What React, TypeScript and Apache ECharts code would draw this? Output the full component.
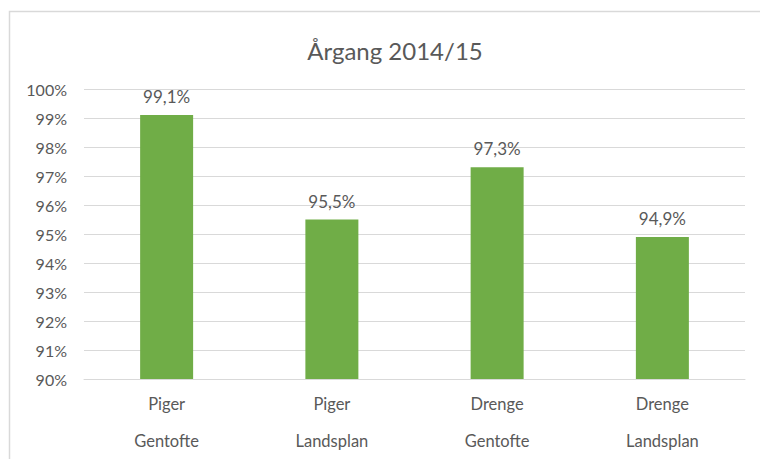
import React, { useEffect, useRef } from "react";
import * as echarts from "echarts";

const titleText = "Årgang 2014/15";
const categories = ["Piger\nGentofte", "Piger\nLandsplan", "Drenge\nGentofte", "Drenge\nLandsplan"];
const values = [99.1, 95.5, 97.3, 94.9];
const yMin = 90;
const yMax = 100;
const yStep = 1;

export default function App() {
  const ref = useRef<HTMLDivElement>(null);
  useEffect(() => {
    if (!ref.current) return;
    const chart = echarts.init(ref.current, null, { renderer: "svg", width: 760, height: 459 });
    const font = "Lato, 'Open Sans', sans-serif";
    chart.setOption({
      animation: false,
      backgroundColor: "#ffffff",
      textStyle: { fontFamily: font },
      title: {
        text: titleText,
        left: 390,
        top: 33,
        textAlign: "center",
        textStyle: { color: "#595959", fontSize: 24, fontWeight: "normal", fontFamily: font },
      },
      graphic: [
        {
          type: "rect",
          shape: { x: 9.5, y: 11.5, width: 770, height: 470 },
          style: { fill: "none", stroke: "#d9d9d9", lineWidth: 1.5 },
          silent: true,
          z: -1,
        },
      ],
      grid: { left: 84, top: 89, width: 661, height: 294, containLabel: false },
      xAxis: {
        type: "category",
        data: categories,
        axisLine: { show: true, lineStyle: { color: "#d9d9d9" } },
        axisTick: { show: false },
        axisLabel: {
          color: "#595959",
          fontSize: 16.5,
          lineHeight: 37,
          margin: 6,
          fontFamily: font,
        },
      },
      yAxis: {
        type: "value",
        min: yMin,
        max: yMax,
        interval: yStep,
        axisLine: { show: false },
        axisTick: { show: false },
        splitLine: { lineStyle: { color: "#d9d9d9" } },
        axisLabel: {
          color: "#595959",
          fontSize: 16,
          margin: 17,
          fontFamily: font,
          formatter: (v: number) => `${v}%`,
        },
      },
      series: [
        {
          type: "bar",
          data: values,
          barWidth: 53,
          itemStyle: { color: "#70AD47" },
          label: {
            show: true,
            position: "top",
            distance: 10,
            color: "#595959",
            fontSize: 17,
            fontFamily: font,
            formatter: (p: any) => `${String(p.value).replace(".", ",")}%`,
          },
        },
      ],
    });
    return () => chart.dispose();
  }, []);
  return (
    <div
      ref={ref}
      style={{ position: "fixed", left: 0, top: 0, width: 760, height: 459 }}
    />
  );
}
